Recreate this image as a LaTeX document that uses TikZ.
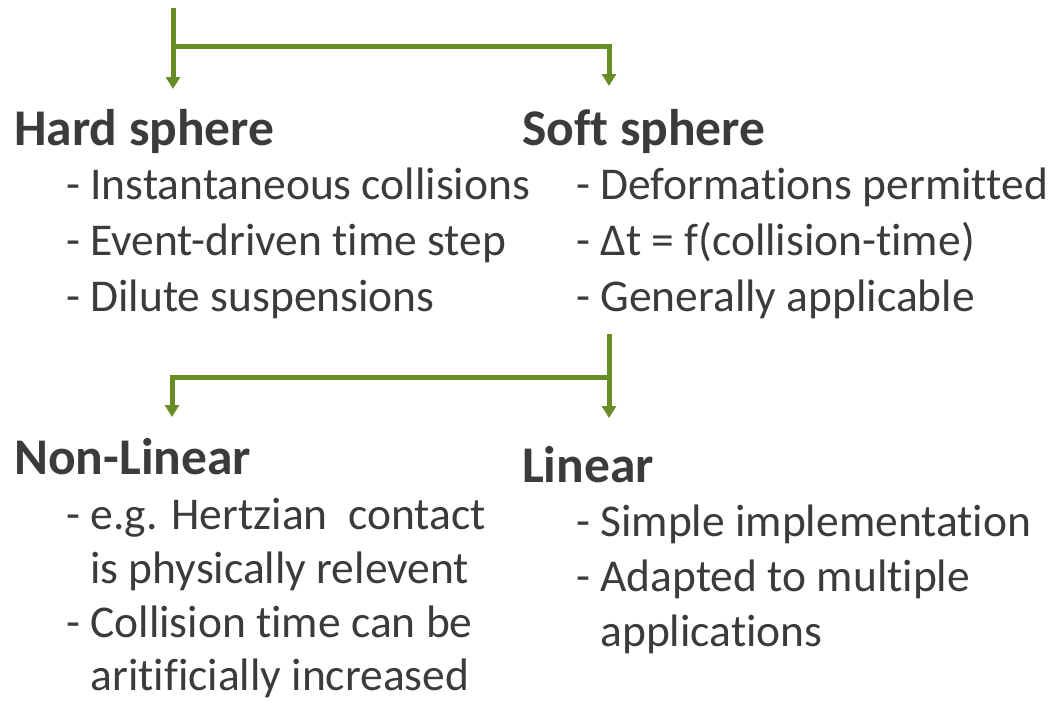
\documentclass[tikz,border=0pt]{standalone}
\usepackage{fontspec}
\setmainfont{Carlito}[RawFeature=-liga]
\usetikzlibrary{arrows.meta}
\definecolor{txt}{RGB}{59,59,59}
\definecolor{grn}{RGB}{104,141,38}
\tikzset{
  x=1pt, y=-1pt,
  head/.style={anchor=base west, inner sep=0pt, text=txt, font=\fontsize{51.5}{60}\selectfont\bfseries},
  item/.style={anchor=base west, inner sep=0pt, text=txt, font=\fontsize{45.5}{54}\selectfont},
  arr/.style={draw=grn, line width=5pt, -{Triangle[width=14pt,length=12pt]}},
}
\newcommand{\ind}{\phantom{- }}
\begin{document}
\begin{tikzpicture}
\useasboundingbox (0,0) rectangle (1059,702);
% top group
\node[head] (hard) at (14,145) {Hard sphere};
\node[item] (h1) at (66,199) {- Instantaneous collisions};
\node[item] (h2) at (66,255) {- Event-driven time step};
\node[item] (h3) at (66,311) {- Dilute suspensions};
\node[head] (soft) at (522,145) {Soft sphere};
\node[item] (s1) at (576,199) {- Deformations permitted};
\node[item] (s2) at (576,255) {- Δt = f(collision-time)};
\node[item] (s3) at (576,311) {- Generally applicable};
% bottom group
\node[head] (nonlin) at (14,474) {Non-Linear};
\node[item] (n1) at (66,529) {- e.g. Hertzian\ \ contact};
\node[item] (n2) at (66,583) {\ind is physically relevent};
\node[item] (n3) at (66,637) {- Collision time can be};
\node[item] (n4) at (66,690) {\ind aritificially increased};
\node[head] (lin) at (522,482) {Linear};
\node[item] (l1) at (576,536) {- Simple implementation};
\node[item] (l2) at (576,591) {- Adapted to multiple};
\node[item] (l3) at (576,646) {\ind applications};
% connectors
\coordinate (top) at (173,8);
\coordinate (topbar) at (173,46);
\coordinate (hardtip) at (173,89);
\coordinate (softtip) at (609,86);
\draw[arr] (top) -- (hardtip);
\draw[arr] (topbar) -| (softtip);
\coordinate (mid) at (609,334);
\coordinate (midbar) at (609,377);
\coordinate (nontip) at (172,417);
\coordinate (lintip) at (609,418);
\draw[arr] (mid) -- (lintip);
\draw[arr] (midbar) -| (nontip);
\end{tikzpicture}
\end{document}
